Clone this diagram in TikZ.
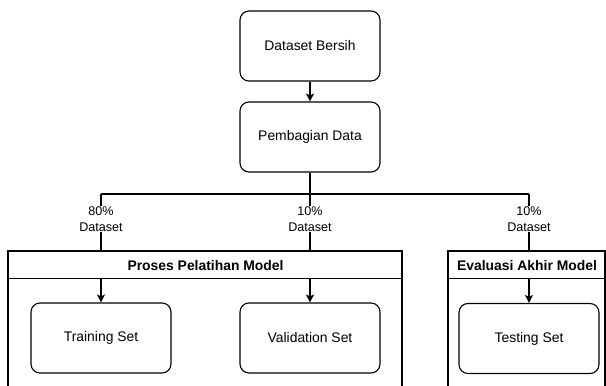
\documentclass[tikz,border=0pt]{standalone}
\usepackage{fontspec}
\setmainfont{Liberation Sans}
\usetikzlibrary{arrows.meta,calc}
\begin{document}
\begin{tikzpicture}[x=1pt,y=-1pt,
  box/.style={draw, rounded corners=9pt, line width=1.1pt, minimum width=140pt,
    minimum height=70pt, inner sep=0pt, font=\fontsize{13.9}{16}\selectfont},
  hdr/.style={draw, line width=1.1pt, minimum height=27pt, inner sep=0pt,
    anchor=north west, font=\bfseries\fontsize{13.9}{16}\selectfont},
  lbl/.style={fill=white, align=center, inner sep=1pt,
    font=\fontsize{12.6}{15.5}\selectfont},
  link/.style={line width=1.1pt},
  arr/.style={link, -{Stealth[length=8pt,width=8pt,inset=2pt]}}
]
\useasboundingbox (0,0) rectangle (606,386);

% upper chain
\node[box] (bersih) at (310,46) {Dataset Bersih};
\node[box] (bagi) at (310,137) {Pembagian Data};
\draw[arr] (bersih) -- (bagi);

% container frames (open at the bottom)
\draw[link] (8,388) -- (8,251) -- (402,251) -- (402,388);
\draw[link] (448,388) -- (448,251) -- (605,251) -- (605,388);
\node[hdr, minimum width=394pt] (proses) at (8,251) {Proses Pelatihan Model};
\node[hdr, minimum width=157pt] (evaluasi) at (448,251) {Evaluasi Akhir Model};

% inner boxes
\node[box] (train) at (101,338) {Training Set};
\node[box] (valid) at (310,338) {Validation Set};
\node[box] (test) at (529,338.5) {Testing Set};

% split of the dataset
\coordinate (split) at (310,194);
\coordinate (splitL) at (train |- split);
\coordinate (splitR) at (test |- split);
\draw[link] (bagi) -- (split);
\draw[link] (splitL) -- (splitR);
\draw[link] (splitL) -- (splitL |- proses.north);
\draw[link] (split) -- (split |- proses.north);
\draw[link] (splitR) -- (splitR |- evaluasi.north);

\node[lbl] (l80) at (101,219) {80\%\\Dataset};
\node[lbl] (l10a) at (310,219) {10\%\\Dataset};
\node[lbl] (l10b) at (529,219) {10\%\\Dataset};

% arrows into the sets
\draw[arr] (train |- proses.south) -- (train);
\draw[arr] (valid |- proses.south) -- (valid);
\draw[arr] (test |- evaluasi.south) -- (test);
\end{tikzpicture}
\end{document}
